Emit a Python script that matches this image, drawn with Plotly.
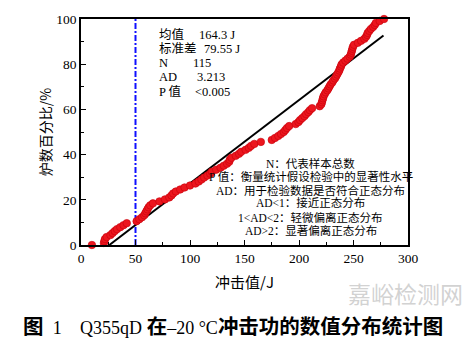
import plotly.graph_objects as go

# Impact energies (J) of the 115 heats, sorted ascending
impact_j = [
    10, 21, 21.5, 22, 23.5, 27, 29, 31, 33, 36,
    39, 42, 51, 53.5, 56, 58, 59, 60, 61, 62,
    63.5, 66, 72, 77, 81, 83, 84.5, 87, 91, 95,
    100, 105, 108, 110.5, 113, 116, 118.5, 120, 124, 128,
    131, 134, 136, 136.5, 138, 142, 145, 147, 151, 154,
    156, 159, 165, 175, 178, 181, 183.5, 186, 187.5, 189,
    191, 197, 199.5, 201, 203, 205, 206.5, 208.5, 210, 212,
    219, 220.5, 221, 221.5, 222, 222.5, 223.5, 224.5, 226, 227,
    228, 229, 230.5, 231.5, 233, 234, 235, 236, 237, 237.5,
    238.5, 239, 240.5, 242.5, 244.5, 246.5, 247.5, 248, 248.5, 249,
    249.5, 250.5, 254, 257, 260, 261.5, 262.5, 263, 264.5, 266,
    268, 269.5, 270.5, 274, 278,
]

# Cumulative share of heats (%) for each sorted value
cum_pct = [
    0.00, 0.88, 1.75, 2.63, 3.51, 4.39, 5.26, 6.14, 7.02, 7.89,
    8.77, 9.65, 10.53, 11.40, 12.28, 13.16, 14.04, 14.91, 15.79, 16.67,
    17.54, 18.42, 19.30, 20.18, 21.05, 21.93, 22.81, 23.68, 24.56, 25.44,
    26.32, 27.19, 28.07, 28.95, 29.82, 30.70, 31.58, 32.46, 33.33, 34.21,
    35.09, 35.96, 36.84, 37.72, 38.60, 39.47, 40.35, 41.23, 42.11, 42.98,
    43.86, 44.74, 45.61, 46.49, 47.37, 48.25, 49.12, 50.00, 50.88, 51.75,
    52.63, 53.51, 54.39, 55.26, 56.14, 57.02, 57.89, 58.77, 59.65, 60.53,
    61.40, 62.28, 63.16, 64.04, 64.91, 65.79, 66.67, 67.54, 68.42, 69.30,
    70.18, 71.05, 71.93, 72.81, 73.68, 74.56, 75.44, 76.32, 77.19, 78.07,
    78.95, 79.82, 80.70, 81.58, 82.46, 83.33, 84.21, 85.09, 85.96, 86.84,
    87.72, 88.60, 89.47, 90.35, 91.23, 92.11, 92.98, 93.86, 94.74, 95.61,
    96.49, 97.37, 98.25, 99.12, 100.00,
]

# Fitted normal reference line
fit_x = [26, 277.5]
fit_y = [0, 92.7]

# Required minimum impact energy
limit_j = 50

stat_labels = ["均值", "标准差", "N", "AD", "P 值"]
stat_values = ["164.3 J", "79.55 J", "115", "3.213", "<0.005"]

notes = [
    "N：代表样本总数",
    "P 值：衡量统计假设检验中的显著性水平",
    "AD：用于检验数据是否符合正态分布",
    "AD&lt;1：接近正态分布",
    "1&lt;AD&lt;2：轻微偏离正态分布",
    "AD&gt;2：显著偏离正态分布",
]

x_ticks = [0, 50, 100, 150, 200, 250, 300]
y_ticks = [0, 20, 40, 60, 80, 100]

SERIF = "Liberation Serif, Noto Sans CJK SC, serif"
CJK = "Noto Sans CJK SC, sans-serif"

fig = go.Figure()

fig.add_trace(go.Scatter(
    x=[limit_j, limit_j], y=[0, 100], mode="lines",
    line=dict(color="#1010ff", width=2, dash="6px,2px,2px,2px"),
    hoverinfo="skip",
))

fig.add_trace(go.Scatter(
    x=fit_x, y=fit_y, mode="lines",
    line=dict(color="black", width=2),
    hoverinfo="skip",
))

fig.add_trace(go.Scatter(
    x=impact_j, y=cum_pct, mode="markers",
    marker=dict(size=7.5, color="rgb(236,22,30)",
                line=dict(color="rgb(200,0,10)", width=0.6)),
    cliponaxis=False,
))

axis_common = dict(
    showgrid=False, zeroline=False, showline=True, linecolor="black",
    linewidth=1.5, mirror=True, ticks="inside", ticklen=5, tickwidth=1.2,
    tickcolor="black", tickfont=dict(family=SERIF, size=13.5, color="black"),
)

fig.update_layout(
    width=470, height=345,
    margin=dict(l=81, r=62, t=15, b=100),
    paper_bgcolor="white", plot_bgcolor="white",
    showlegend=False,
    xaxis=dict(range=[0, 300], tickvals=x_ticks,
               minor=dict(ticks="inside", ticklen=3, dtick=25, tickcolor="black"),
               **axis_common),
    yaxis=dict(range=[0, 100], tickvals=y_ticks,
               minor=dict(ticks="inside", ticklen=3, dtick=10, tickcolor="black"),
               **axis_common),
)

# Summary statistics block
row_y = [93, 86.7, 80.4, 74.3, 67.8]
val_x = [106, 110.7, 100.9, 104.5, 102.7]
for lab, val, yy, vx in zip(stat_labels, stat_values, row_y, val_x):
    fig.add_annotation(x=69.8, y=yy, xref="x", yref="y", text=lab,
                       showarrow=False, xanchor="left", yanchor="middle",
                       font=dict(family=SERIF, size=12.5, color="black"))
    fig.add_annotation(x=vx, y=yy, xref="x", yref="y", text=val,
                       showarrow=False, xanchor="left", yanchor="middle",
                       font=dict(family=SERIF, size=12.5, color="black"))

# Explanatory notes
note_y = [35.9, 30.4, 23.9, 18.4, 12.3, 6.5]
for txt, yy in zip(notes, note_y):
    fig.add_annotation(x=210.6, y=yy, xref="x", yref="y", text=txt,
                       showarrow=False, xanchor="center", yanchor="middle",
                       font=dict(family=SERIF, size=11.5, color="black"))

# Axis titles
fig.add_annotation(x=-0.109, y=0.5, xref="paper", yref="paper",
                   text="炉数百分比/%", textangle=-90, showarrow=False,
                   xanchor="center", yanchor="middle",
                   font=dict(family=CJK, size=14, color="black"))
fig.add_annotation(x=0.5, y=-0.161, xref="paper", yref="paper",
                   text="冲击值/J", showarrow=False,
                   xanchor="center", yanchor="middle",
                   font=dict(family=CJK, size=15, color="black"))

# Watermark
fig.add_annotation(x=1.17, y=-0.213, xref="paper", yref="paper",
                   text="嘉峪检测网", showarrow=False, borderpad=0,
                   xanchor="right", yanchor="middle",
                   font=dict(family=CJK, size=23, color="rgba(190,190,190,0.7)"))

# Figure caption
LAT = 'style="font-family:Liberation Serif;font-size:18px"'
caption = (f'<b>图</b>&#160;&#160;<span {LAT}>1</span>'
           '&#160;&#160;&#160;&#160;'
           f'<span {LAT}>Q355qD</span> '
           f'<b>在</b><span {LAT}>–20 °C</span>'
           '<b>冲击功的数值分布统计图</b>')
fig.add_annotation(x=-0.18, y=-0.352, xref="paper", yref="paper",
                   text=caption, showarrow=False, borderpad=0,
                   xanchor="left", yanchor="middle",
                   font=dict(family=CJK, size=20.5, color="black"))

fig.write_html("out.html")
